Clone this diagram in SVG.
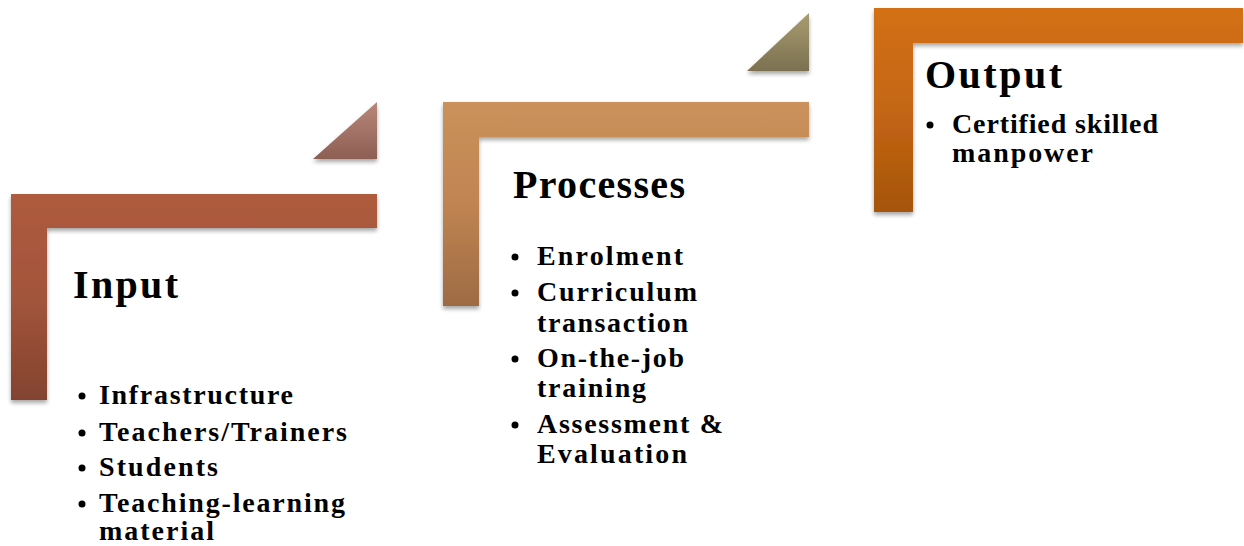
<svg xmlns="http://www.w3.org/2000/svg" width="1244" height="546" viewBox="0 0 1244 546">
<style>
.t{font-family:"Liberation Serif","Times New Roman",serif;font-weight:bold;fill:#000}
.h{font-size:40px}
.b{font-size:28px}
</style>
<defs>
<filter id="sh" x="-10%" y="-10%" width="120%" height="130%">
<feGaussianBlur in="SourceAlpha" stdDeviation="2"/>
<feOffset dx="0" dy="3" result="o"/>
<feComponentTransfer><feFuncA type="linear" slope="0.35"/></feComponentTransfer>
<feMerge><feMergeNode/><feMergeNode in="SourceGraphic"/></feMerge>
</filter>
<linearGradient id="g1" x1="0" y1="0" x2="0" y2="1"><stop offset="0" stop-color="#ae5b3e"/><stop offset="0.5" stop-color="#a3553b"/><stop offset="1" stop-color="#834330"/></linearGradient>
<linearGradient id="g1t" x1="0" y1="0" x2="0" y2="1"><stop offset="0" stop-color="#b8877a"/><stop offset="1" stop-color="#8d5f53"/></linearGradient>
<linearGradient id="g2" x1="0" y1="0" x2="0" y2="1"><stop offset="0" stop-color="#cb925c"/><stop offset="0.5" stop-color="#c08452"/><stop offset="1" stop-color="#9d6b43"/></linearGradient>
<linearGradient id="g2t" x1="0" y1="0" x2="0" y2="1"><stop offset="0" stop-color="#a89d70"/><stop offset="1" stop-color="#7b7050"/></linearGradient>
<linearGradient id="g3" x1="0" y1="0" x2="0" y2="1"><stop offset="0" stop-color="#d37015"/><stop offset="0.5" stop-color="#c46612"/><stop offset="1" stop-color="#a5540f"/></linearGradient>
</defs>
<g id="input">
<path d="M11 194H377V228H47V400H11Z" fill="url(#g1)" filter="url(#sh)"/>
<path d="M313 159L377 102V159Z" fill="url(#g1t)" filter="url(#sh)"/>
<text class="t h" x="73" y="298" textLength="105" lengthAdjust="spacing">Input</text>
<circle cx="82" cy="396" r="3.5"/><text class="t b" x="99" y="404" textLength="194" lengthAdjust="spacing">Infrastructure</text>
<circle cx="82" cy="433" r="3.5"/><text class="t b" x="99" y="441" textLength="248" lengthAdjust="spacing">Teachers/Trainers</text>
<circle cx="82" cy="468" r="3.5"/><text class="t b" x="99" y="476" textLength="119" lengthAdjust="spacing">Students</text>
<circle cx="82" cy="504" r="3.5"/><text class="t b" x="99" y="512" textLength="246" lengthAdjust="spacing">Teaching-learning</text>
<text class="t b" x="99" y="540" textLength="115" lengthAdjust="spacing">material</text>
</g>
<g id="processes">
<path d="M443 102H809V137H479V306H443Z" fill="url(#g2)" filter="url(#sh)"/>
<path d="M747 71L809 13V71Z" fill="url(#g2t)" filter="url(#sh)"/>
<text class="t h" x="513" y="198" textLength="172" lengthAdjust="spacing">Processes</text>
<circle cx="515" cy="257" r="3.5"/><text class="t b" x="537" y="265" textLength="146" lengthAdjust="spacing">Enrolment</text>
<circle cx="515" cy="293" r="3.5"/><text class="t b" x="537" y="301" textLength="160" lengthAdjust="spacing">Curriculum</text>
<text class="t b" x="537" y="332" textLength="151" lengthAdjust="spacing">transaction</text>
<circle cx="515" cy="359" r="3.5"/><text class="t b" x="537" y="367" textLength="147" lengthAdjust="spacing">On-the-job</text>
<text class="t b" x="537" y="397" textLength="109" lengthAdjust="spacing">training</text>
<circle cx="515" cy="425" r="3.5"/><text class="t b" x="537" y="433" textLength="186" lengthAdjust="spacing">Assessment &amp;</text>
<text class="t b" x="537" y="463" textLength="150" lengthAdjust="spacing">Evaluation</text>
</g>
<g id="output">
<path d="M874 8H1243V43H913V212H874Z" fill="url(#g3)" filter="url(#sh)"/>
<text class="t h" x="925" y="88" textLength="137" lengthAdjust="spacing">Output</text>
<circle cx="930" cy="125" r="3.5"/><text class="t b" x="952" y="133" textLength="206" lengthAdjust="spacing">Certified skilled</text>
<text class="t b" x="952" y="162" textLength="141" lengthAdjust="spacing">manpower</text>
</g>
<g id="connectors"></g>
</svg>
